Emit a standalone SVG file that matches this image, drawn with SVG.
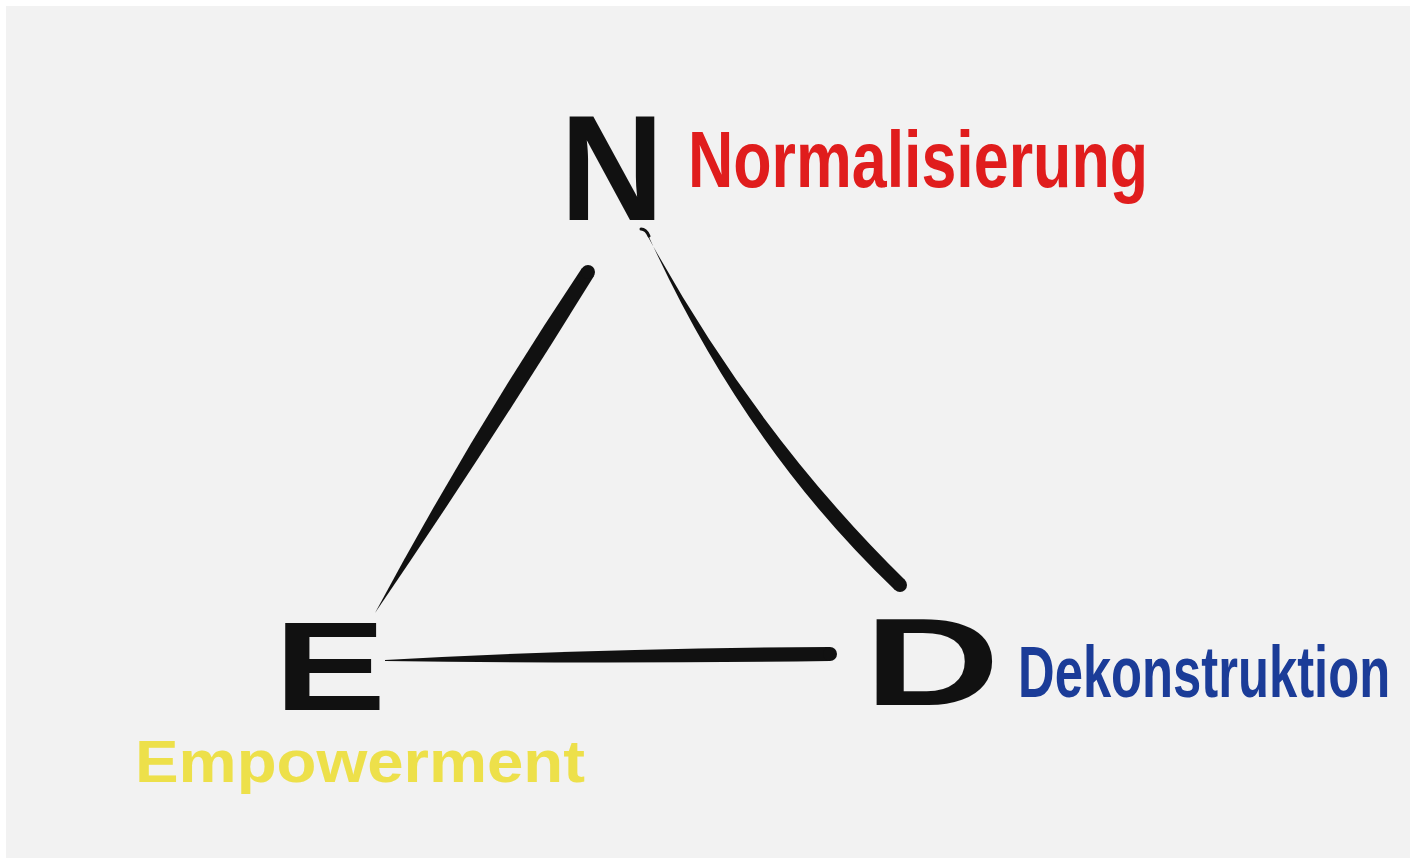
<svg xmlns="http://www.w3.org/2000/svg" width="1416" height="864" viewBox="0 0 1416 864">
  <style>
    .ink { fill: #111111; }
    .letter { font-family: "Liberation Sans", Arial, sans-serif; font-weight: bold; fill: #111111; }
    .label { font-family: "Liberation Sans", Arial, sans-serif; font-weight: bold; }
    .red { fill: #e01d1d; }
    .blue { fill: #1b3c98; }
    .yellow { fill: #ede04a; }
  </style>
  <rect x="0" y="0" width="1416" height="864" fill="#ffffff"/>
  <rect x="6" y="6" width="1404" height="852" fill="#f2f2f2"/>

  <g id="connectors">
    <!-- N to E -->
    <path class="ink" d="M582,268 Q471,434 375,613 Q489,446 594,276 Z"/>
    <circle class="ink" cx="588" cy="272" r="7"/>
    <!-- N to D -->
    <path class="ink" d="M647,235 Q756,434 905,580 L895,590 Q744,446 649,237 Z"/>
    <circle class="ink" cx="900" cy="585" r="7"/>
    <path d="M641,229 Q646,229 649,236" fill="none" stroke="#111111" stroke-width="3" stroke-linecap="round"/>
    <!-- E to D -->
    <path class="ink" d="M385,660 Q600,648 830,647 L830,661 Q600,664 385,661 Z"/>
    <circle class="ink" cx="830" cy="654" r="7"/>
  </g>

  <g id="node-N">
    <text class="letter" x="560" y="220" font-size="150" textLength="104" lengthAdjust="spacingAndGlyphs">N</text>
    <text class="label red" x="688" y="187" font-size="80" textLength="460" lengthAdjust="spacingAndGlyphs">Normalisierung</text>
  </g>

  <g id="node-E">
    <text class="letter" x="274" y="710" font-size="126" textLength="112" lengthAdjust="spacingAndGlyphs">E</text>
    <text class="label yellow" x="135" y="782" font-size="60" textLength="450" lengthAdjust="spacingAndGlyphs">Empowerment</text>
  </g>

  <g id="node-D">
    <text class="letter" x="864" y="705" font-size="124" textLength="136" lengthAdjust="spacingAndGlyphs">D</text>
    <text class="label blue" transform="translate(1018,697) scale(0.705,1)" x="0" y="0" font-size="72">Dekonstruktion</text>
  </g>
</svg>
